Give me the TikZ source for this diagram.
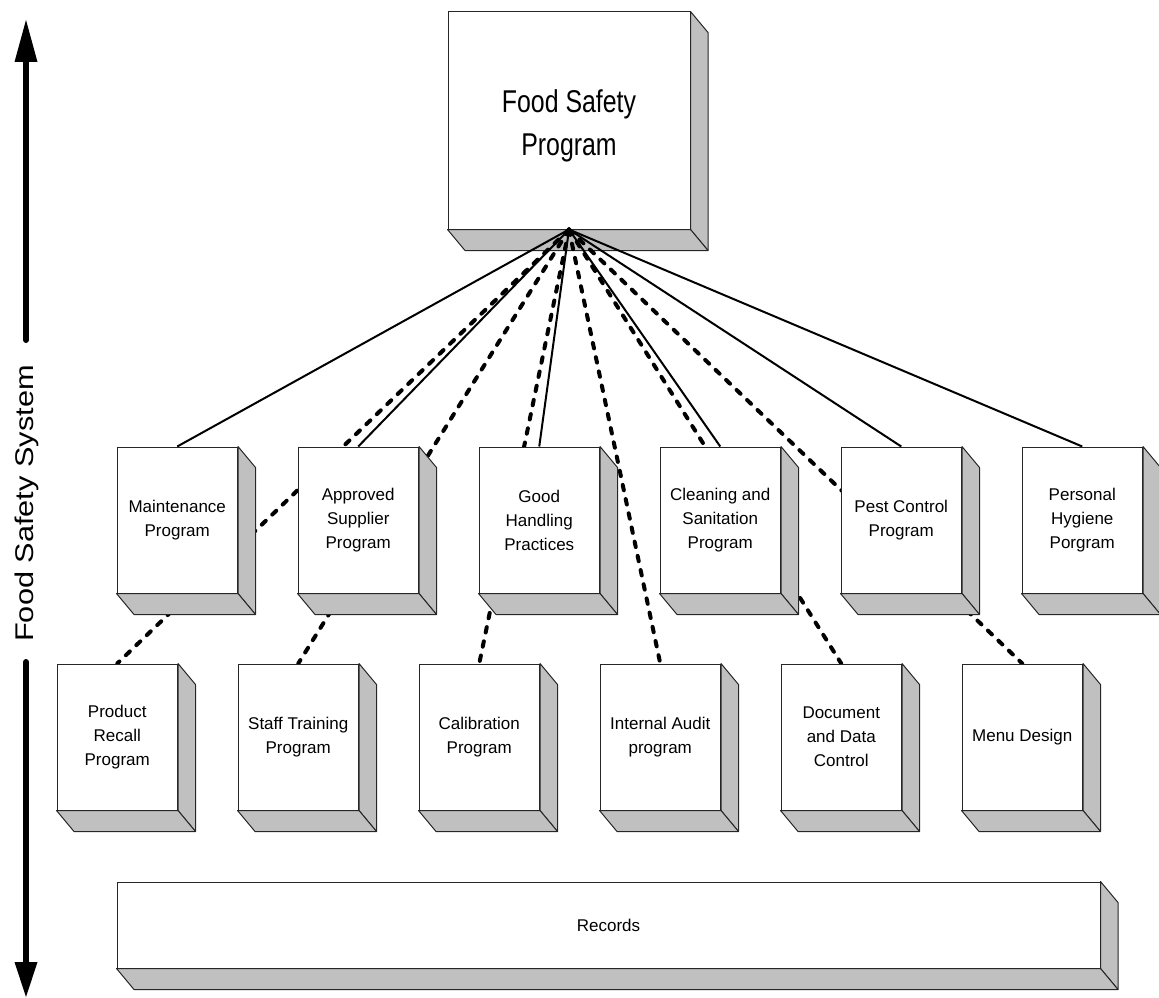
\documentclass[tikz,border=0pt]{standalone}
\usepackage{fontspec}
\setmainfont{Liberation Sans}
\usepackage{graphicx}
\pgfdeclarelayer{toplayer}
\pgfdeclarelayer{links}
\pgfsetlayers{toplayer,links,main}
\definecolor{face}{HTML}{C0C0C0}
\tikzset{
  front/.style={draw=black!85, line width=1pt, fill=white, inner sep=0pt,
    align=center, font=\fontsize{17}{24}\selectfont},
  sideface/.style={draw=black!85, line width=1pt, fill=face, line join=round},
  solidlink/.style={line width=2pt},
  dashlink/.style={line width=4pt, line cap=round, dash pattern=on 5.5pt off 9pt},
  bigarrow/.style={line width=6pt, line cap=round},
}
% name, cx, cy, w, h, text
\newcommand\cubebox[6]{%
  \node[front, minimum width=#4pt, minimum height=#5pt] (#1) at (#2,#3) {#6};
  \draw[sideface] (#1.north east) -- ([shift={(17.5,21)}]#1.north east)
     -- ([shift={(17.5,21)}]#1.south east) -- (#1.south east) -- cycle;
  \draw[sideface] (#1.south west) -- ([shift={(17.5,21)}]#1.south west)
     -- ([shift={(17.5,21)}]#1.south east) -- (#1.south east) -- cycle;
}
\begin{document}
\begin{tikzpicture}[x=1pt, y=-1pt]
\useasboundingbox (0,0) rectangle (1159,998);

% top box
\begin{pgfonlayer}{toplayer}
\node[front, minimum width=242pt, minimum height=217pt, font=\fontsize{31.5}{43}\selectfont]
  (fsp) at (569,120.5)
  {\raisebox{-5pt}[\height][\depth]{\scalebox{0.79}[1]{\begin{tabular}{@{}c@{}}Food Safety\\Program\end{tabular}}}};
\draw[sideface] (fsp.north east) -- ([shift={(17.5,21)}]fsp.north east)
   -- ([shift={(17.5,21)}]fsp.south east) -- (fsp.south east) -- cycle;
\draw[sideface] (fsp.south west) -- ([shift={(17.5,21)}]fsp.south west)
   -- ([shift={(17.5,21)}]fsp.south east) -- (fsp.south east) -- cycle;
\end{pgfonlayer}

% middle row
\cubebox{m1}{177.25}{520}{120.5}{146}{Maintenance\\Program}
\cubebox{m2}{358.25}{520}{120.5}{146}{Approved\\Supplier\\Program}
\cubebox{m3}{539.25}{520}{120.5}{146}{Good\\Handling\\Practices}
\cubebox{m4}{720.25}{520}{120.5}{146}{Cleaning and\\Sanitation\\Program}
\cubebox{m5}{901.25}{520}{120.5}{146}{Pest Control\\Program}
\cubebox{m6}{1082.25}{520}{120.5}{146}{Personal\\Hygiene\\Porgram}

% bottom row
\cubebox{b1}{117.25}{737}{120.5}{146}{Product\\Recall\\Program}
\cubebox{b2}{298.25}{737}{120.5}{146}{Staff Training\\Program}
\cubebox{b3}{479.25}{737}{120.5}{146}{Calibration\\Program}
\cubebox{b4}{660.25}{737}{120.5}{146}{Internal Audit\\program}
\cubebox{b5}{841.25}{737}{120.5}{146}{Document\\and Data\\Control}
\cubebox{b6}{1022.25}{737}{120.5}{146}{Menu Design}

% records
\cubebox{rec}{608.5}{925}{983}{86}{Records}

% connectors
\begin{pgfonlayer}{links}
\foreach \m in {m1,m2,m3,m4,m5,m6}
  \draw[solidlink] (fsp.south) -- (\m.north);
\foreach \b in {b1,b2,b3,b4,b5,b6}
  \draw[dashlink] (fsp.south) -- (\b.north);
\end{pgfonlayer}

% vertical axis arrow
\coordinate (atop) at (26,20);
\coordinate (abot) at (26,997);
\fill (14.5,62) -- (atop) -- (37.5,62) -- cycle;
\draw[bigarrow] (26,60) -- (26,340);
\fill (14.5,962) -- (abot) -- (37.5,962) -- cycle;
\draw[bigarrow] (26,662) -- (26,964);
\node[rotate=90, inner sep=0pt, font=\fontsize{25.6}{30}\selectfont] (fss) at (26.7,503.5)
  {\scalebox{1.2}[1]{Food Safety System}};
\end{tikzpicture}
\end{document}
